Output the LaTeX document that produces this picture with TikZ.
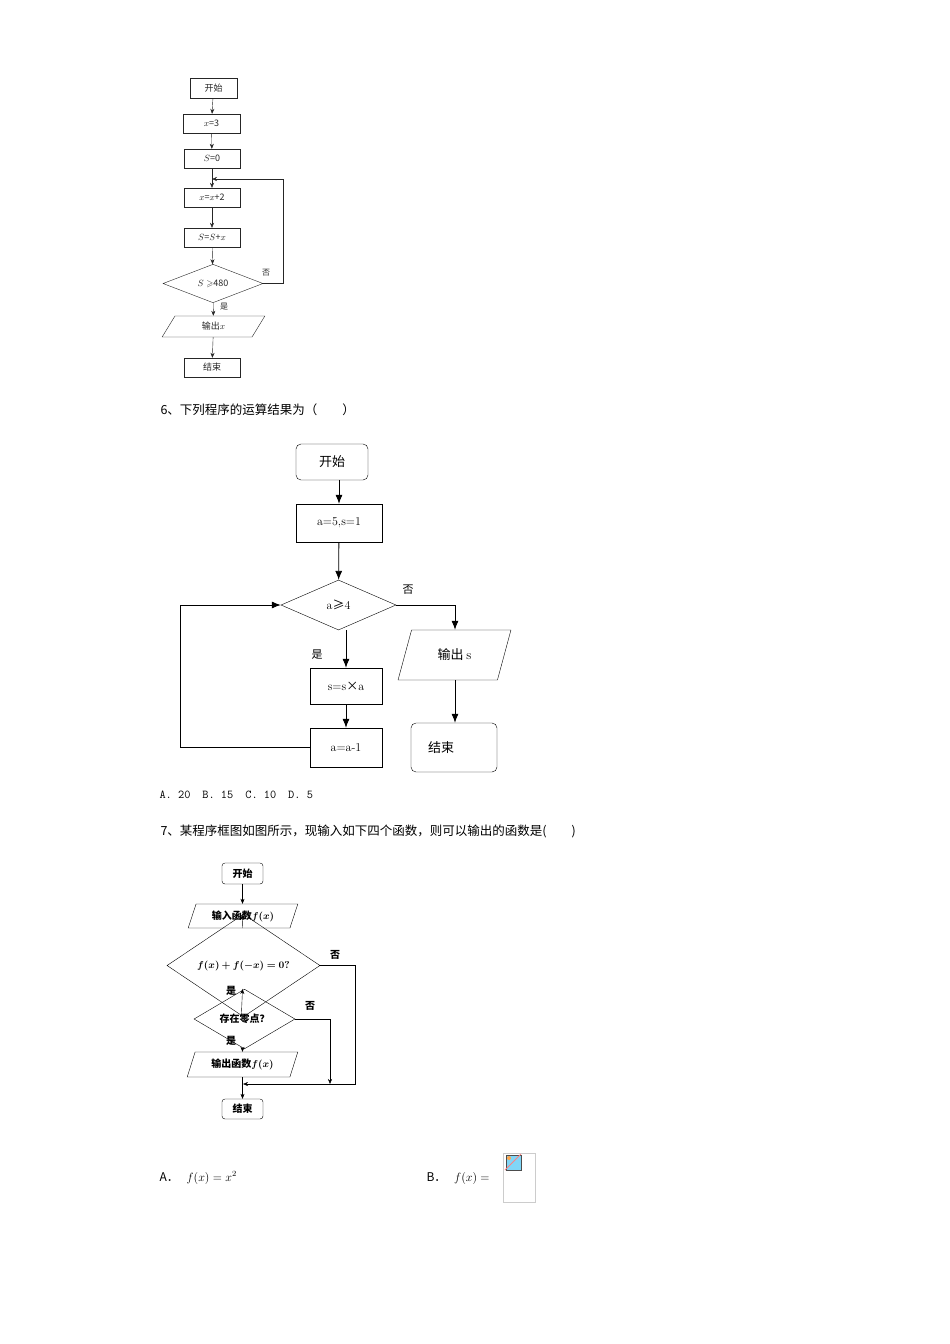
\documentclass[tikz,border=0pt]{standalone}
\usepackage{amsmath,amssymb,bm}
\usepackage{fontspec}
\newfontfamily\cjk{Noto Sans CJK SC}
\usetikzlibrary{shapes.geometric,arrows.meta}
\begin{document}
\begin{tikzpicture}[x=1pt,y=-1pt,
  box/.style={draw,inner sep=0pt,anchor=center},
  dia/.style={draw,diamond,inner sep=0pt,anchor=center},
  para/.style={draw,trapezium,trapezium left angle=65,trapezium right angle=115,trapezium stretches=true,inner sep=0pt,anchor=center},
  arr/.style={-{Stealth[length=5pt,width=4pt]}},
  arrb/.style={-{Latex[length=9pt,width=7pt]},line width=0.8pt},
  lab/.style={font=\cjk\fontsize{10}{12}\selectfont,anchor=center},
  t1/.style={font=\cjk\fontsize{9}{11}\selectfont},
  t2/.style={font=\cjk\fontsize{13}{15}\selectfont},
  t3/.style={font=\cjk\bfseries\fontsize{10}{12}\selectfont},
  txt/.style={font=\cjk\fontsize{12.5}{15}\selectfont,anchor=west}]
\useasboundingbox[fill=white] (0,0) rectangle (950,1344);
% ---- chart 1
\begin{scope}[gray!30!black]
\node[box,t1,minimum width=47,minimum height=20] (s1) at (213.5,88) {开始};
\node[box,t1,minimum width=57,minimum height=19] (a1) at (211.5,123.5) {$x$=3};
\node[box,t1,minimum width=56,minimum height=19] (b1) at (212,158.5) {$S$=0};
\node[box,t1,minimum width=56,minimum height=19] (c1) at (212,197.5) {$x$=$x$+2};
\node[box,t1,minimum width=56,minimum height=19] (d1) at (212,237.5) {$S$=$S$+$x$};
\node[dia,t1,minimum width=100,minimum height=27] (e1) at (213,283.5) {$S\geqslant$480};
\node[para,t1,minimum width=103,minimum height=21] (f1) at (213.5,326.5) {输出$x$};
\node[box,t1,minimum width=56,minimum height=19] (g1) at (212,367.5) {结束};
\coordinate (m1) at (212,179);
\draw[arr] (s1) -- (a1);
\draw[arr] (a1) -- (b1);
\draw[arr] (b1) -- (c1);
\draw[arr] (c1) -- (d1);
\draw[arr] (d1) -- (e1);
\draw[arr] (e1) -- (f1);
\draw[arr] (f1) -- (g1);
\draw[arr] (e1.east) -- (283,283.5) -- (283,179) -- (m1);
\node[lab,font=\cjk\fontsize{8}{10}\selectfont] (n1) at (266,273) {否};
\node[lab,font=\cjk\fontsize{8}{10}\selectfont] (y1) at (224,307) {是};
\end{scope}
\node[txt] (q6) at (157,410) {6、下列程序的运算结果为（\hspace{2em}）};
% ---- chart 2
\node[box,t2,rounded corners=5pt,minimum width=72,minimum height=36] (s2) at (332,462) {开始};
\node[box,t2,minimum width=86,minimum height=38,font=\fontsize{12}{14}\selectfont] (a2) at (339,523) {a=5,s=1};
\node[dia,t2,minimum width=115,minimum height=50,font=\fontsize{12}{14}\selectfont] (b2) at (338.5,605) {a{\cjk ≥}4};
\node[box,minimum width=72,minimum height=36,font=\fontsize{12}{14}\selectfont] (c2) at (346,686) {s=s{\cjk ×}a};
\node[box,minimum width=72,minimum height=39,font=\fontsize{12}{14}\selectfont] (d2) at (346,747.5) {a=a-1};
\node[para,t2,trapezium left angle=66,trapezium right angle=114,minimum width=113,minimum height=50] (e2) at (454.5,655) {输出 {\normalfont s}};
\node[box,t2,rounded corners=5pt,minimum width=86,minimum height=49] (f2) at (454,747.5) {\hspace*{-2em}结束};
\draw[arrb] (s2.south -| a2) -- (a2);
\draw[arrb] (a2) -- (b2);
\draw[arrb] (b2.south -| c2) -- (c2);
\draw[arrb] (c2) -- (d2);
\draw[arrb] (b2.east) -- (455,605) -- (e2.north -| 455,0);
\draw[arrb] (e2.south -| 455,0) -- (f2.north -| 455,0);
\draw[arrb] (d2.west) -- (180,747.5) -- (180,605) -- (b2.west);
\node[lab,font=\cjk\fontsize{11}{13}\selectfont] (n2) at (408,590) {否};
\node[lab,font=\cjk\fontsize{11}{13}\selectfont] (y2) at (317,655) {是};
\node[txt,font=\ttfamily\fontsize{12}{14}\selectfont] (ans6) at (156,795) {A. 20\quad B. 15\quad C. 10\quad D. 5};
\node[txt] (q7) at (157,831) {7、某程序框图如图所示，现输入如下四个函数，则可以输出的函数是(\hspace{2em})};
% ---- chart 3
\node[box,t3,rounded corners=3pt,minimum width=41,minimum height=21] (s3) at (242.5,873.5) {开始};
\node[para,t3,minimum width=110,minimum height=24] (a3) at (243,916) {输入函数$\bm{f(x)}$};
\node[dia,t3,minimum width=153,minimum height=37] (b3) at (243.5,965.5) {$\bm{f(x)+f(-x)=0?}$};
\node[dia,t3,minimum width=101,minimum height=28] (c3) at (244.5,1019) {存在零点？};
\node[para,t3,minimum width=111,minimum height=25] (d3) at (242.5,1064.5) {输出函数$\bm{f(x)}$};
\node[box,t3,rounded corners=3pt,minimum width=41,minimum height=20] (e3) at (242.5,1109) {结束};
\coordinate (j3) at (243,1084);
\draw[arr] (s3) -- (a3.north -| s3);
\draw[arr] (a3.south -| s3) -- (b3);
\draw[arr] (b3) -- (c3.north -| s3);
\draw[arr] (c3.south -| s3) -- (d3.north -| s3);
\draw[arr] (d3.south -| s3) -- (e3);
\draw[arr] (b3.east) -- (355,965.5) -- (355,1084) -- (j3);
\draw[arr] (c3.east) -- (330,1019) -- (330,1084);
\node[lab,t3] (n3) at (335,955) {否};
\node[lab,t3] (y3) at (231,991) {是};
\node[lab,t3] (n4) at (310,1006) {否};
\node[lab,t3] (y4) at (231,1041) {是};
% ---- answers 7
\node[txt,font=\fontsize{12}{14}\selectfont] (ansA) at (156,1178) {{\cjk A．}\ \ $f(x)=x^2$};
\node[txt,font=\fontsize{12}{14}\selectfont] (ansB) at (423,1178) {{\cjk B．}\ \ $f(x)=$};
\node[draw=gray!40,minimum width=32,minimum height=49,inner sep=0] (img) at (519,1177.5) {};
\draw[black!70,fill=cyan!50] (506,1155) rectangle (521,1170);
\fill[orange!70] (509,1158) circle (2);
\draw[red!50,line width=1pt] (505,1170) -- (521,1154);
\end{tikzpicture}
\end{document}
